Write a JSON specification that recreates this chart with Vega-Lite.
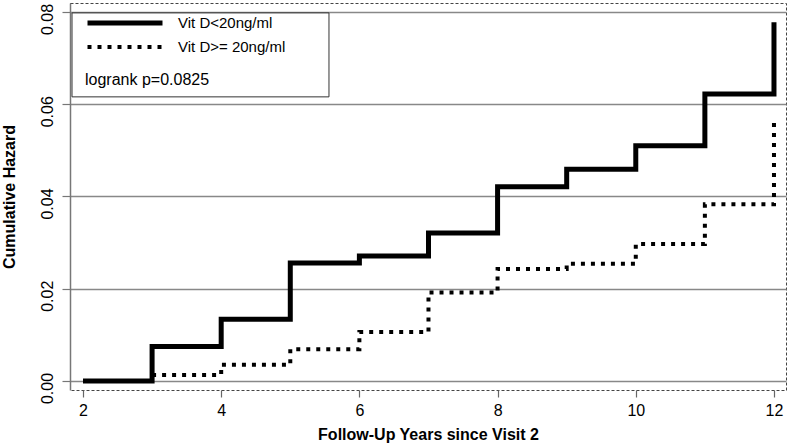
{
  "$schema": "https://vega.github.io/schema/vega-lite/v6.json",
  "width": 716,
  "height": 387,
  "autosize": {"type": "none"},
  "padding": {"left": 70, "top": 3, "right": 2, "bottom": 57},
  "background": "white",
  "config": {
    "font": "Liberation Sans",
    "view": {"stroke": "#444444", "strokeDash": [3, 2], "strokeWidth": 1}
  },
  "layer": [
    {
      "data": {"values": [{"box": "legend"}]},
      "mark": {"type": "rect", "fill": "white", "stroke": "#333333", "strokeWidth": 1},
      "encoding": {
        "x": {"datum": 1.841, "type": "quantitative"},
        "x2": {"datum": 5.56},
        "y": {"datum": 0.0798, "type": "quantitative"},
        "y2": {"datum": 0.0616}
      }
    },
    {
      "data": {
        "values": [
          {"t": 2, "h": 0.0, "group": "Vit D<20ng/ml"},
          {"t": 3, "h": 0.0075, "group": "Vit D<20ng/ml"},
          {"t": 4, "h": 0.0134, "group": "Vit D<20ng/ml"},
          {"t": 5, "h": 0.0256, "group": "Vit D<20ng/ml"},
          {"t": 6, "h": 0.0271, "group": "Vit D<20ng/ml"},
          {"t": 7, "h": 0.0321, "group": "Vit D<20ng/ml"},
          {"t": 8, "h": 0.0421, "group": "Vit D<20ng/ml"},
          {"t": 9, "h": 0.0459, "group": "Vit D<20ng/ml"},
          {"t": 10, "h": 0.0510, "group": "Vit D<20ng/ml"},
          {"t": 11, "h": 0.0622, "group": "Vit D<20ng/ml"},
          {"t": 12, "h": 0.0778, "group": "Vit D<20ng/ml"},
          {"t": 3, "h": 0.0013, "group": "Vit D>= 20ng/ml"},
          {"t": 4, "h": 0.0035, "group": "Vit D>= 20ng/ml"},
          {"t": 5, "h": 0.0069, "group": "Vit D>= 20ng/ml"},
          {"t": 6, "h": 0.0106, "group": "Vit D>= 20ng/ml"},
          {"t": 7, "h": 0.0192, "group": "Vit D>= 20ng/ml"},
          {"t": 8, "h": 0.0243, "group": "Vit D>= 20ng/ml"},
          {"t": 9, "h": 0.0254, "group": "Vit D>= 20ng/ml"},
          {"t": 10, "h": 0.0297, "group": "Vit D>= 20ng/ml"},
          {"t": 11, "h": 0.0383, "group": "Vit D>= 20ng/ml"},
          {"t": 12, "h": 0.0562, "group": "Vit D>= 20ng/ml"}
        ]
      },
      "mark": {"type": "line", "interpolate": "step-after", "color": "black", "strokeCap": "butt", "strokeJoin": "miter"},
      "encoding": {
        "x": {
          "field": "t", "type": "quantitative",
          "scale": {"domain": [1.812, 12.174], "nice": false, "zero": false},
          "axis": {
            "title": "Follow-Up Years since Visit 2",
            "values": [2, 4, 6, 8, 10, 12],
            "format": "d",
            "domain": false, "grid": false,
            "tickColor": "#666666", "tickSize": 7, "tickWidth": 1.2,
            "labelFont": "Liberation Sans", "labelFontSize": 16, "labelColor": "black", "labelPadding": 5,
            "titleFont": "Liberation Sans", "titleFontSize": 16, "titleFontWeight": "bold", "titleColor": "black", "titlePadding": 8
          }
        },
        "y": {
          "field": "h", "type": "quantitative",
          "scale": {"domain": [-0.00195, 0.08195], "nice": false, "zero": false},
          "axis": {
            "title": "Cumulative Hazard",
            "values": [0, 0.02, 0.04, 0.06, 0.08],
            "format": ".2f",
            "domain": true, "domainColor": "#777777", "domainWidth": 1.5,
            "grid": true, "gridColor": "#888888", "gridWidth": 1.5,
            "tickColor": "#777777", "tickSize": 8, "tickWidth": 1.2,
            "labelAngle": 270, "labelAlign": "center", "labelBaseline": "bottom", "labelOffset": 7,
            "labelFont": "Liberation Sans", "labelFontSize": 16, "labelColor": "black", "labelPadding": 7,
            "titleFont": "Liberation Sans", "titleFontSize": 16, "titleFontWeight": "bold", "titleColor": "black", "titlePadding": 22
          }
        },
        "strokeDash": {
          "field": "group", "type": "nominal",
          "scale": {"domain": ["Vit D<20ng/ml", "Vit D>= 20ng/ml"], "range": [[1, 0], [4, 6]]},
          "legend": {
            "title": "logrank p=0.0825",
            "titleOrient": "bottom", "titleAnchor": "start",
            "titleFont": "Liberation Sans", "titleFontSize": 16, "titleFontWeight": "normal", "titleColor": "black", "titlePadding": 17,
            "orient": "none", "legendX": 2, "legendY": -1,
            "padding": 13,
            "symbolType": "stroke", "symbolSize": 5625, "symbolStrokeWidth": 5, "symbolStrokeColor": "black", "symbolOffset": 0,
            "clipHeight": 16,
            "labelFont": "Liberation Sans", "labelFontSize": 15, "labelColor": "black", "labelOffset": 13,
            "rowPadding": 8
          }
        },
        "strokeWidth": {
          "field": "group", "type": "nominal",
          "scale": {"domain": ["Vit D<20ng/ml", "Vit D>= 20ng/ml"], "range": [5, 4]},
          "legend": null
        }
      }
    }
  ]
}
